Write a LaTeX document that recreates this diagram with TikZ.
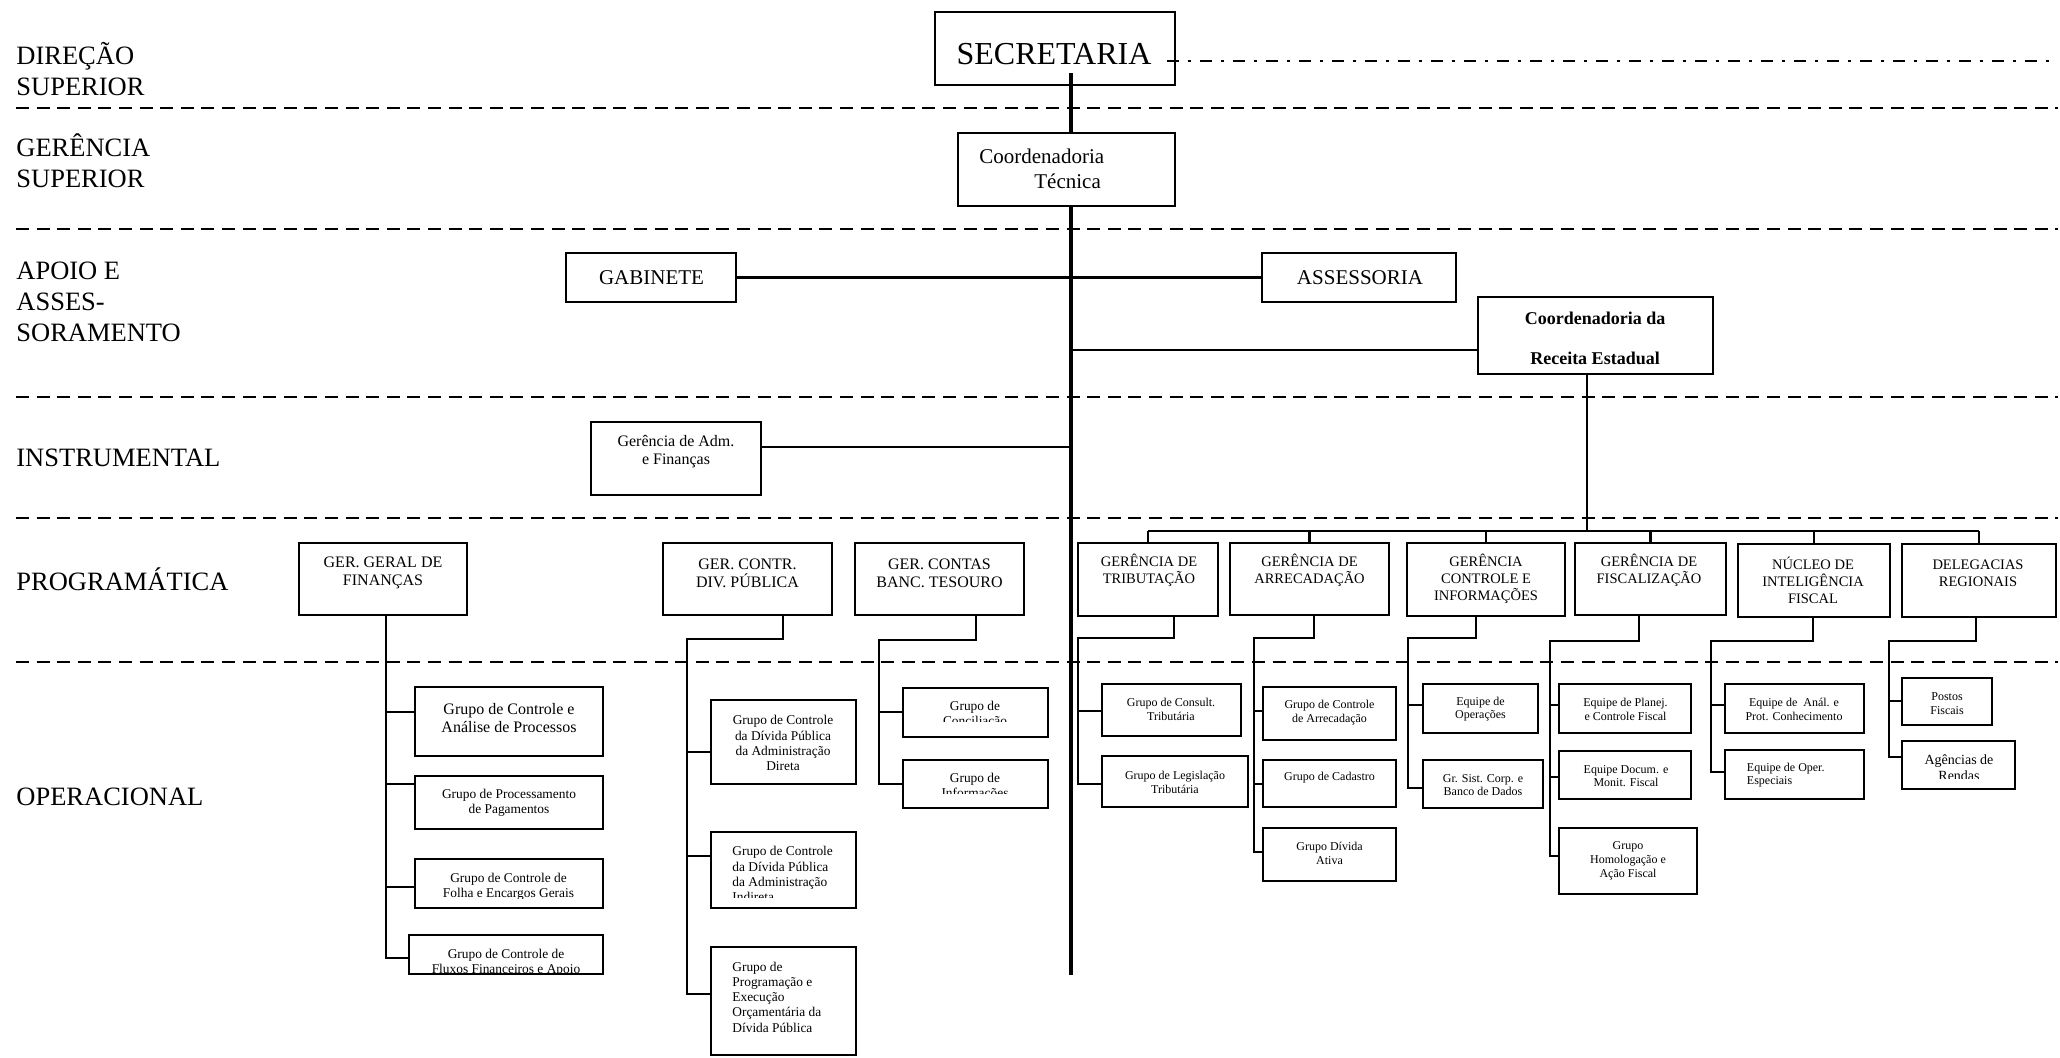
\documentclass[tikz,border=0pt]{standalone}
\usepackage{fontspec}
\setmainfont{Liberation Serif}
\usetikzlibrary{fit}

\newcommand{\chartfont}[2]{\fontsize{#1}{#2}\selectfont}

\tikzset{
  orgchart/.style={
    x=0.5pt, y=-0.5pt,
    box/.style={draw, line width=1.3pt, inner sep=0pt},
    conn/.style={line width=1.1pt},
    trunk/.style={line width=1.7pt},
    band/.style={line width=0.85pt, dash pattern=on 6.5pt off 3.8pt},
    secline/.style={line width=0.85pt, dash pattern=on 6pt off 4.5pt on 1.5pt off 4.5pt},
  }
}

\begin{document}
\begin{tikzpicture}[orgchart]
        \tikzstyle{txt}=[inner sep=0pt, align=center]
        \tikzstyle{ltxt}=[inner sep=0pt, align=left, anchor=west]
        \tikzstyle{tier}=[ltxt, font=\chartfont{13.25}{15.5}]
        \tikzstyle{ptext}=[txt, font=\chartfont{7.25}{8.5}]
        \tikzstyle{qtext}=[txt, font=\chartfont{8}{9}]
        \tikzstyle{htext}=[txt, font=\chartfont{6.7}{7.6}]
        \tikzstyle{gtext}=[txt, font=\chartfont{6}{6.9}]

        \useasboundingbox (0,0) rectangle (2060,1057);

        % faixas
        \foreach \y in {108,229,397,518,662}
            \draw[band] (16,\y) -- (2058,\y);

        \node[tier] (dir)   at (16,69)  {DIREÇÃO\\SUPERIOR};
        \node[tier] (ger)   at (16,161) {GERÊNCIA\\SUPERIOR};
        \node[tier] (apoio) at (16,302) {APOIO E\\ASSES-\\SORAMENTO};
        \node[tier] (instr) at (16,458) {INSTRUMENTAL};
        \node[tier] (prog)  at (16,579) {PROGRAMÁTICA};
        \node[tier] (oper)  at (16,797) {OPERACIONAL};

        % topo
        \node[box, fit={(935,12) (1175,85)}] (sec) {};
        \node[txt, font=\chartfont{16}{18}] (secT) at (1054,54) {SECRETARIA};
        \node[box, fit={(958,133) (1175,206)}] (ctec) {};
        \node[ltxt, font=\chartfont{10.5}{12.5}] (ctecT) at (979,169) {Coordenadoria\\\hspace*{27.5pt}Técnica};
        \node[box, fit={(566,253) (736,302)}] (gab) {};
        \node[txt, font=\chartfont{10.5}{12.5}] (gabT) at (651.5,277.5) {GABINETE};
        \node[box, fit={(1262,253) (1456,302)}] (ass) {};
        \node[txt, font=\chartfont{10.5}{12.5}] (assT) at (1360,277.5) {ASSESSORIA};
        \node[box, fit={(1478,297) (1713,374)}] (crec) {};
        \node[txt, font=\chartfont{9}{20}\bfseries] (crecT) at (1595,338) {Coordenadoria da\\Receita Estadual};
        \node[box, fit={(591,422) (761,495)}] (gadm) {};
        \node[qtext] (gadmT) at (676,452) {Gerência de Adm.\\e Finanças};

        % programatica
        \node[box, fit={(299,543) (467,615)}] (gggf) {};
        \node[qtext] (gggfT) at (383,573) {GER. GERAL DE\\FINANÇAS};
        \node[box, fit={(663,543) (832,615)}] (gcdp) {};
        \node[qtext] (gcdpT) at (747.5,573) {GER. CONTR.\\DIV. PÚBLICA};
        \node[box, fit={(855,543) (1024,615)}] (gcbt) {};
        \node[qtext] (gcbtT) at (939.5,573) {GER. CONTAS\\BANC. TESOURO};
        \node[box, fit={(1078,543) (1218,616)}] (trib) {};
        \node[ptext] (tribT) at (1149,570) {GERÊNCIA DE\\TRIBUTAÇÃO};
        \node[box, fit={(1230,543) (1389,615)}] (arre) {};
        \node[ptext] (arreT) at (1309.5,570) {GERÊNCIA DE\\ARRECADAÇÃO};
        \node[box, fit={(1407,543) (1565,616)}] (cinf) {};
        \node[ptext] (cinfT) at (1486,579) {GERÊNCIA\\CONTROLE E\\INFORMAÇÕES};
        \node[box, fit={(1575,543) (1726,615)}] (fisc) {};
        \node[ptext] (fiscT) at (1649,570) {GERÊNCIA DE\\FISCALIZAÇÃO};
        \node[box, fit={(1738,544) (1890,617)}] (nucl) {};
        \node[ptext] (nuclT) at (1813,580) {NÚCLEO DE\\INTELIGÊNCIA\\FISCAL};
        \node[box, fit={(1902,544) (2056,617)}] (deleg) {};
        \node[ptext] (delegT) at (1978,573) {DELEGACIAS\\REGIONAIS};

        % operacional
        \node[box, fit={(415,687) (603,756)}] (g1) {};
        \node[qtext] (g1T) at (509,718) {Grupo de Controle e\\Análise de Processos};
        \node[box, fit={(415,776) (603,829)}] (g2) {};
        \node[htext] (g2T) at (509,803) {Grupo de Processamento\\de Pagamentos};
        \node[box, fit={(415,859) (603,908)}] (g3) {};
        \begin{scope}
            \clip (415,859) rectangle (603,898);
            \node[htext] (g3T) at (508.5,887) {Grupo de Controle de\\Folha e Encargos Gerais};
        \end{scope}
        \node[box, fit={(409,935) (603,974)}] (g4) {};
        \begin{scope}
            \clip (409,935) rectangle (603,973);
            \node[htext] (g4T) at (506,963) {Grupo de Controle de\\Fluxos Financeiros e Apoio};
        \end{scope}

        \node[box, fit={(711,700) (856,784)}] (d1) {};
        \node[htext] (d1T) at (783,743) {Grupo de Controle\\da Dívida Pública\\da Administração\\Direta};
        \node[box, fit={(711,832) (856,908)}] (d2) {};
        \begin{scope}
            \clip (711,832) rectangle (856,897);
            \node[htext, align=left, anchor=west] (d2T) at (732,874) {Grupo de Controle\\da Dívida Pública\\da Administração\\Indireta};
        \end{scope}
        \node[box, fit={(711,947) (856,1055)}] (d3) {};
        \node[htext, align=left, anchor=west] (d3T) at (732,997) {Grupo de\\Programação e\\Execução\\Orçamentária da\\Dívida Pública};

        \node[box, fit={(903,688) (1048,737)}] (c1) {};
        \begin{scope}
            \clip (903,688) rectangle (1048,721.5);
            \node[htext] (c1T) at (975,714.5) {Grupo de\\Conciliação};
        \end{scope}
        \node[box, fit={(903,760) (1048,808)}] (c2) {};
        \begin{scope}
            \clip (903,760) rectangle (1048,793.5);
            \node[htext] (c2T) at (975,786.5) {Grupo de\\Informações};
        \end{scope}

        \node[box, fit={(1102,684) (1241,736)}] (t1) {};
        \node[gtext] (t1T) at (1171,709) {Grupo de Consult.\\Tributária};
        \node[box, fit={(1102,756) (1248,807)}] (t2) {};
        \node[gtext] (t2T) at (1175,782) {Grupo de Legislação\\Tributária};

        \node[box, fit={(1263,687) (1396,740)}] (a1) {};
        \node[gtext] (a1T) at (1329.5,712.5) {Grupo de Controle\\de Arrecadação};
        \node[box, fit={(1263,760) (1396,807)}] (a2) {};
        \node[gtext] (a2T) at (1329.5,778) {Grupo de Cadastro};
        \node[box, fit={(1263,828) (1396,881)}] (a3) {};
        \node[gtext] (a3T) at (1329.5,853.5) {Grupo Dívida\\Ativa};

        \node[box, fit={(1423,684) (1538,733)}] (i1) {};
        \node[gtext] (i1T) at (1480.5,709) {Equipe de\\Operações};
        \node[box, fit={(1423,760) (1543,808)}] (i2) {};
        \node[gtext] (i2T) at (1483,785) {Gr. Sist. Corp. e\\Banco de Dados};

        \node[box, fit={(1559,684) (1691,733)}] (f1) {};
        \node[gtext] (f1T) at (1625.5,709) {Equipe de Planej.\\e Controle Fiscal};
        \node[box, fit={(1559,751) (1691,799)}] (f2) {};
        \node[gtext] (f2T) at (1626,776) {Equipe Docum. e\\Monit. Fiscal};
        \node[box, fit={(1559,828) (1697,894)}] (f3) {};
        \node[gtext] (f3T) at (1628,860.5) {Grupo\\Homologação e\\Ação Fiscal};

        \node[box, fit={(1725,684) (1864,733)}] (n1) {};
        \node[gtext] (n1T) at (1794,709) {Equipe de~~Anál. e\\Prot. Conhecimento};
        \node[box, fit={(1725,750) (1864,799)}] (n2) {};
        \node[gtext, align=left, anchor=west] (n2T) at (1746.5,775) {Equipe de Oper.\\Especiais};

        \node[box, fit={(1902,678) (1992,725)}] (p1) {};
        \node[gtext] (p1T) at (1947,704) {Postos\\Fiscais};
        \node[box, fit={(1902,741) (2015,789)}] (p2) {};
        \begin{scope}
            \clip (1902,741) rectangle (2015,778.5);
            \node[txt, font=\chartfont{7}{8}] (p2T) at (1959,768) {Agências de\\Rendas};
        \end{scope}

        % ligacoes
        \coordinate (mtop) at (1071,73);
        \coordinate (mbot) at (1071,975);
        \draw[trunk] (mtop) -- (mtop |- ctec.north);
        \draw[trunk] (mtop |- ctec.south) -- (mbot);
        \draw[secline] ([shift={(-9,12.5)}]sec.east) -- (2058,61);
        \draw[conn] (gab.east) -- (ass.west);
        \draw[conn] (mtop |- 0,350) -- (crec.west |- 0,350);
        \draw[conn] (gadm.east |- 0,447) -- (mtop |- 0,447);

        \coordinate (bus) at (1587,531);
        \draw[conn] (crec.south -| bus) -- (bus);
        \draw[conn] (trib.north |- bus) -- (deleg.north |- bus);
        \foreach \u in {trib,arre,cinf,fisc,nucl,deleg}
            \draw[conn] (\u.north |- bus) -- (\u.north);

        \draw[conn] (gggf.south -| 386,0) |- (g4.west |- 0,958);
        \foreach \g/\y in {g1/712,g2/784,g3/887}
            \draw[conn] (386,\y) -- (\g.west |- 0,\y);

        \coordinate (gcdpJ) at (687,639);
        \draw[conn] (gcdp.south -| 783,0) |- (gcdpJ) |- (d3.west |- 0,994);
        \foreach \g/\y in {d1/752,d2/856}
            \draw[conn] (gcdpJ |- 0,\y) -- (\g.west |- 0,\y);

        \coordinate (gcbtJ) at (879,640);
        \draw[conn] (gcbt.south -| 976,0) |- (gcbtJ) |- (c2.west |- 0,784);
        \draw[conn] (gcbtJ |- 0,712) -- (c1.west |- 0,712);

        \coordinate (tribJ) at (1078,638);
        \draw[conn] (trib.south -| 1174,0) |- (tribJ) |- (t2.west |- 0,784);
        \draw[conn] (tribJ |- 0,711) -- (t1.west |- 0,711);

        \coordinate (arreJ) at (1254,638);
        \draw[conn] (arre.south -| 1314,0) |- (arreJ) |- (a3.west |- 0,852);
        \foreach \g/\y in {a1/711,a2/784}
            \draw[conn] (arreJ |- 0,\y) -- (\g.west |- 0,\y);

        \coordinate (cinfJ) at (1408,638);
        \draw[conn] (cinf.south -| 1476,0) |- (cinfJ) |- (i2.west |- 0,788);
        \draw[conn] (cinfJ |- 0,705) -- (i1.west |- 0,705);

        \coordinate (fiscJ) at (1550,641);
        \draw[conn] (fisc.south -| 1639,0) |- (fiscJ) |- (f3.west |- 0,856);
        \foreach \g/\y in {f1/705,f2/777}
            \draw[conn] (fiscJ |- 0,\y) -- (\g.west |- 0,\y);

        \coordinate (nuclJ) at (1711,641);
        \draw[conn] (nucl.south -| 1813,0) |- (nuclJ) |- (n2.west |- 0,772);
        \draw[conn] (nuclJ |- 0,705) -- (n1.west |- 0,705);

        \coordinate (delegJ) at (1889,641);
        \draw[conn] (deleg.south -| 1976,0) |- (delegJ) |- (p2.west |- 0,757);
        \draw[conn] (delegJ |- 0,701) -- (p1.west |- 0,701);
    \end{tikzpicture}
\end{document}
